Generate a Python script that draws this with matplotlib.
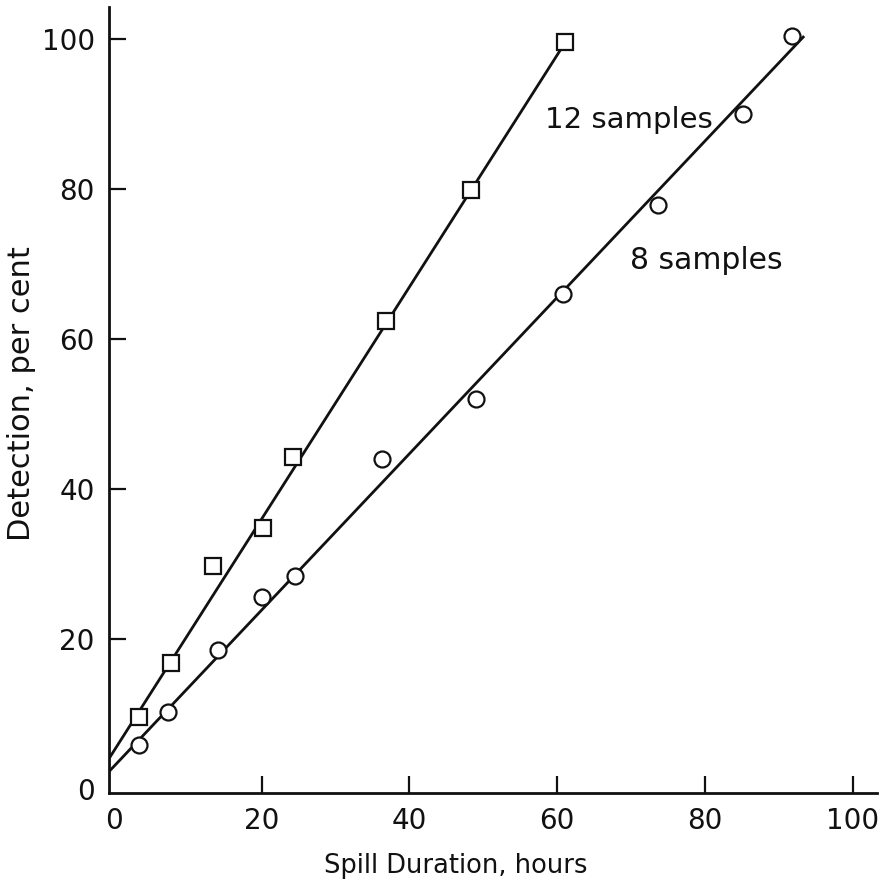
import numpy as np
import matplotlib
matplotlib.use('Agg')
import matplotlib.pyplot as plt

# data
hours_12 = [3.4, 7.7, 13.5, 20.2, 24.3, 36.9, 48.4, 61.1]
detect_12 = [9.6, 16.8, 29.8, 34.8, 44.3, 62.5, 79.9, 99.6]

hours_8 = [3.4, 7.4, 14.1, 20.0, 24.5, 36.3, 49.0, 60.8, 73.7, 85.2, 91.8]
detect_8 = [5.9, 10.3, 18.5, 25.6, 28.4, 44.0, 52.1, 66.1, 77.9, 90.1, 100.5]

# fitted straight lines (end points)
fit_x_12 = [-0.5, 61.1]
fit_y_12 = [4.3, 99.6]
fit_x_8 = [-0.5, 93.3]
fit_y_8 = [2.5, 100.3]

ticks = [0, 20, 40, 60, 80, 100]

plt.rcParams['font.family'] = ['DejaVu Sans']
ink = '#111111'

fig = plt.figure(figsize=(8.95, 8.86), dpi=100)
ax = fig.add_axes([0.1213, 0.105, 0.8587, 0.887])

ax.plot(fit_x_12, fit_y_12, color=ink, lw=2.0, zorder=2)
ax.plot(fit_x_8, fit_y_8, color=ink, lw=2.0, zorder=2)
ax.plot(hours_12, detect_12, 's', ms=12, mfc='white', mec=ink, mew=1.6,
        zorder=3, clip_on=False)
ax.plot(hours_8, detect_8, 'o', ms=11.5, mfc='white', mec=ink, mew=1.6,
        zorder=3, clip_on=False)

ax.text(58.4, 89.2, '12 samples', fontsize=21, color=ink, va='center', ha='left')
ax.text(69.9, 70.5, '8 samples', fontsize=21.5, color=ink, va='center', ha='left')

ax.set_xlim(-0.7, 103.3)
ax.set_ylim(-0.5, 104.3)
ax.set_xticks(ticks)
ax.set_yticks(ticks)

for side in ['top', 'right']:
    ax.spines[side].set_visible(False)
for side in ['left', 'bottom']:
    ax.spines[side].set_linewidth(2.0)
    ax.spines[side].set_color(ink)

ax.tick_params(direction='in', length=12, width=1.6, colors=ink,
               labelsize=20, pad=10)
# the ticks at 0 sit on the other axis
ax.xaxis.get_major_ticks()[0].tick1line.set_visible(False)
ax.yaxis.get_major_ticks()[0].tick1line.set_visible(False)

ax.set_xlabel('Spill Duration, hours', fontsize=18.5, color=ink, va='center')
ax.set_ylabel('Detection, per cent', fontsize=22, color=ink, va='center')
ax.xaxis.set_label_coords(0.452, -0.093)
ax.yaxis.set_label_coords(-0.113, 0.508)

fig.savefig('out.png', dpi=100, facecolor='white')
